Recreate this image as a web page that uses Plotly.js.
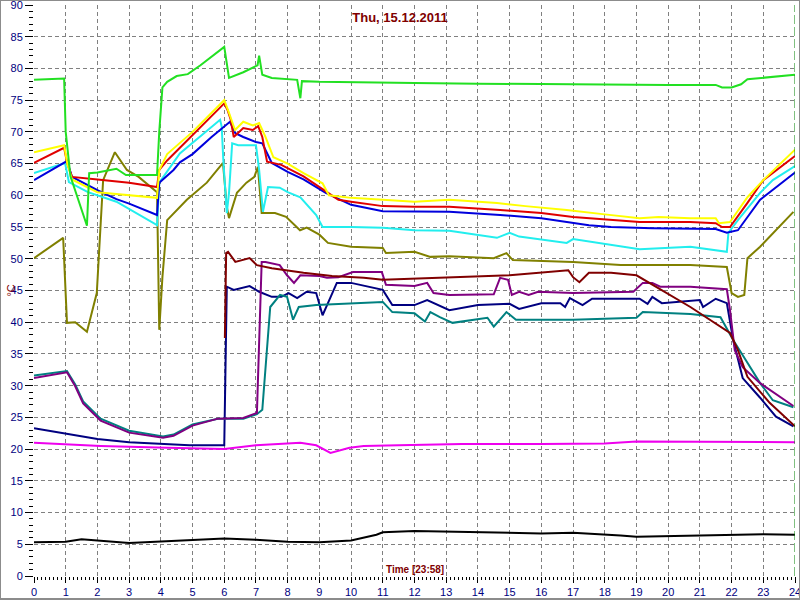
<!DOCTYPE html>
<html>
<head>
<meta charset="utf-8">
<script src="https://cdn.plot.ly/plotly-3.0.1.min.js"></script>
<style>
  html, body { margin: 0; padding: 0; background: #ffffff; }
  #wrap { position: relative; width: 800px; height: 600px; }
  #chart { width: 800px; height: 600px; }
  #frame { position: absolute; left: 0; top: 0; width: 800px; height: 600px; box-sizing: border-box; border: 1px solid #8c8c8c; border-bottom-width: 2px; pointer-events: none; }
</style>
</head>
<body>
<div id="wrap"><div id="chart"></div><div id="frame"></div></div>
<script>
// ---- Chart text ----
const chartTitle = "Thu, 15.12.2011";
const timeLabel = "Time [23:58]";
const unitLabel = "°C";

// ---- Tick labels ----
const xTickVals = [0,1,2,3,4,5,6,7,8,9,10,11,12,13,14,15,16,17,18,19,20,21,22,23,24];
const yTickVals = [0,5,10,15,20,25,30,35,40,45,50,55,60,65,70,75,80,85,90];
const xGridVals = [1,2,3,4,5,6,7,8,9,10,11,12,13,14,15,16,17,18,19,20,21,22,23];
const yGridVals = [5,10,15,20,25,30,35,40,45,50,55,60,65,70,75,80,85];

// ---- Series (hour of day, °C) ----
const limeHours = [0,0.95,1.0,1.15,1.67,1.74,2.0,2.6,2.9,3.88,3.95,4.05,4.2,4.5,4.85,5.25,6.0,6.15,6.6,7.05,7.1,7.2,7.5,8.3,8.4,8.45,9,10,12,14,16,18,20,21.5,21.7,22.0,22.3,22.5,23,24];
const limeTemps = [78.2,78.4,70,63,55.2,63.5,63.6,64.2,63.2,63.2,70,77,77.9,78.8,79.1,80.5,83.4,78.5,79.4,80.5,82,79,78.5,78.2,75.3,78,77.9,77.8,77.7,77.6,77.5,77.5,77.4,77.4,77,77.0,77.5,78.3,78.5,79];

const yellowHours = [0,0.95,1.05,1.2,2.0,3.0,3.88,3.95,4.2,5.0,6.0,6.15,6.34,6.6,6.9,7.1,7.3,7.55,8.0,8.5,9.1,9.3,10.0,11.0,12.0,13.1,14.6,15.5,16.8,18.0,19.1,19.7,20.7,21.5,21.6,21.95,22.5,23.0,24];
const yellowTemps = [66.8,67.9,65,62.5,60.5,60,59.6,64,66.5,70,75,73,70.3,71.6,71,71.4,69.2,66,65,63.5,61.9,60,59.6,59.3,59,59.3,58.8,58.3,57.7,57,56.4,56.6,56.4,56.4,55.6,55.8,59.7,62.4,67.2];

const redHours = [0,0.95,1.05,1.2,2.0,3.0,3.88,3.95,4.2,5.0,6.0,6.1,6.2,6.3,6.6,6.9,7.07,7.2,7.35,7.8,8.5,9.24,9.6,10.0,11.0,12.0,13.1,14.7,16.0,17.0,18.0,19.1,20.7,21.5,21.7,21.95,22.5,23.0,24];
const redTemps = [65.1,67.5,65,62.9,62.5,62,61.3,64,65.5,69.5,74.5,73.5,72,69.2,70.6,70.3,70.9,69.2,65.3,64.8,63,60.5,59.3,59,58.3,58.2,58.2,57.7,57.2,56.6,56.2,55.8,55.8,55.6,55,55,58.8,62.4,66.2];

const blueHours = [0,1.04,1.2,2.0,2.6,3.0,3.88,3.95,4.4,4.6,5.0,5.6,6.18,6.35,6.6,7.0,7.2,7.5,8.0,8.5,9.2,10.0,11.0,12.0,13.1,14.7,16.0,17.5,18.2,19.5,20.7,21.5,21.85,22.2,22.9,23.7,24];
const blueTemps = [62.4,65.4,62.9,60.8,59.4,58.7,56.9,62,64,65.2,66.5,69.2,71.6,69.8,69.2,68.4,68.2,65.1,63.7,62.5,60.4,58.5,57.5,57.4,57.4,56.9,56.4,55.3,55,54.8,54.7,54.7,54.1,54.5,59.3,62.4,63.6];

const cyanHours = [0,0.98,1.1,1.7,2.6,3.88,3.95,4.6,5.87,5.92,5.97,6.08,6.15,6.25,6.44,7.0,7.1,7.22,7.38,7.75,8.0,8.4,8.9,9.1,10.0,11.0,12.0,13.1,14.6,15.0,15.3,16.8,17.0,19.1,20.7,21.85,21.9,22.2,22.9,23.3,24];
const cyanTemps = [63.5,65.1,62.1,60.5,59,55.3,62,66.6,71.9,70.8,65.6,57.2,60.4,68.2,67.9,67.9,64,57.4,61.3,61.2,60.5,59.7,56.9,55,55,54.9,54.5,54.4,53.3,54.1,53.5,52.5,53.1,51.5,51.9,51.1,54.1,56.1,60.4,62.4,64.6];

const oliveHours = [0,0.92,1.04,1.3,1.67,1.98,2.18,2.55,2.93,3.3,3.88,3.95,4.05,4.2,4.82,5.45,5.96,6.08,6.15,6.4,6.7,6.95,7.06,7.18,7.6,7.95,8.39,8.6,9.0,9.27,10.0,11.0,11.1,12.0,12.5,13.1,14.5,14.9,15.1,17.0,18.5,20.7,21.85,22.0,22.2,22.4,22.5,22.9,23.95];
const oliveTemps = [50.1,53.3,39.9,40,38.5,44.6,62.4,66.8,64,62.9,60.5,38.8,47.1,56.1,59.3,62,65.1,58.2,56.4,60.4,62,62.9,64.5,57.2,57.2,56.6,54.5,54.9,53.8,52.5,51.9,51.7,50.9,51.1,50.3,50.4,50.1,50.9,49.8,49.5,49,49,48.7,44.6,44,44.3,50.1,51.9,57.4];

const maroonHours = [6.02,6.06,6.12,6.35,6.8,7.03,7.5,8.5,9.4,10.4,11.0,13.1,15.0,16.85,17.0,17.2,17.5,18.2,19.0,20.7,21.95,22.2,22.5,23.2,24];
const maroonTemps = [37.5,50.9,51.1,49.5,50.1,49,48.5,47.8,47.3,47,46.7,47.1,47.4,48.2,47.1,46.3,47.8,47.8,47.4,42.4,38.3,35.6,31.4,27.3,23.6];

const purpleHours = [0,1.04,1.3,1.55,2.1,3.0,4.07,4.4,5.0,5.8,6.6,7.03,7.18,7.3,7.75,7.98,8.2,8.4,9.0,9.24,9.6,10.06,10.97,11.1,12.0,12.4,12.6,13.1,14.5,14.7,14.95,15.07,15.3,15.6,15.9,17.0,18.9,19.2,19.5,19.75,20.7,21.85,21.95,22.1,22.35,22.9,23.95];
const purpleTemps = [31.2,32.1,29.9,27.2,24.5,22.6,21.8,22.1,23.7,24.8,24.9,25.7,49.5,49.5,49,47.4,46.2,47.4,47.3,47,47.1,47.9,47.9,45.9,45.7,46.2,44.6,44.3,44.4,47,46.7,44.3,44.8,44.3,44.8,44.6,44.8,46.2,46.2,45.6,45.6,45.2,41.9,35.6,32.9,30.4,26.8];

const tealHours = [0,1.04,1.3,1.55,2.1,3.0,4.07,4.4,5.0,5.8,6.6,7.03,7.2,7.35,7.45,7.76,7.98,8.17,8.35,8.9,10.0,11.0,11.3,12.0,12.33,12.5,12.8,13.2,14.3,14.5,14.9,15.2,17.0,19.0,19.2,20.7,21.65,22.05,22.5,22.9,23.3,23.95];
const tealTemps = [31.6,32.3,30.2,27.5,24.8,22.9,22.0,22.3,23.9,24.8,24.8,25.5,26.2,35.6,42.4,44.3,44,40.4,42.4,42.7,43,43.2,41.6,41.4,40.1,41.6,40.8,39.9,40.7,39.3,41.6,40.4,40.4,40.7,41.6,41.3,40.8,37.2,33.6,30.4,27.7,26.6];

const navyHours = [0,1.0,2.0,3.0,4.9,6.0,6.08,6.3,6.8,7.1,7.5,7.8,8.03,8.3,8.6,8.9,9.1,9.27,9.55,10.0,11.0,11.3,12.0,12.4,13.1,14.0,15.0,15.3,16.0,16.6,16.75,16.9,17.3,17.6,19.1,19.35,19.5,19.8,20.7,21.0,21.1,21.5,21.85,22.05,22.35,22.9,23.4,23.95];
const navyTemps = [23.3,22.4,21.6,21.1,20.6,20.6,45.6,45.1,45.7,44.8,44,44,44.6,43.8,44.8,44.6,41.1,43,46.2,46.2,45.1,42.7,42.7,43.5,41.9,42.7,42.9,42.1,43,43,42.4,43.8,42.7,43.7,43.7,42.9,44,43,43.4,43.5,42.4,43.7,43,37.2,31.2,28.1,25.1,23.6];

const magentaHours = [0,1,2.1,4.2,6.0,7.0,8.4,8.9,9.35,9.95,10.4,11.5,13.5,16,18,19,21,24];
const magentaTemps = [21,20.8,20.5,20.2,20,20.6,21,20.6,19.4,20.2,20.5,20.6,20.8,20.8,20.9,21.2,21.2,21.1];

const blackHours = [0,1,1.5,2,2.5,3,3.5,4,5,6,7,8,9,10,10.8,11,12,13,14,15,16,17,18,18.5,19,20,21,22,23,24];
const blackTemps = [5.3,5.4,5.8,5.6,5.4,5.2,5.3,5.4,5.6,5.9,5.7,5.4,5.3,5.6,6.5,6.9,7.1,7.0,6.9,6.8,6.7,6.8,6.6,6.4,6.2,6.3,6.4,6.6,6.6,6.5];

// ---- Build traces ----
const seriesList = [
  {h: blackHours,   v: blackTemps,   c: "#000000"},
  {h: magentaHours, v: magentaTemps, c: "#ee00ee"},
  {h: navyHours,    v: navyTemps,    c: "#000080"},
  {h: tealHours,    v: tealTemps,    c: "#008080"},
  {h: purpleHours,  v: purpleTemps,  c: "#800080"},
  {h: maroonHours,  v: maroonTemps,  c: "#800000"},
  {h: oliveHours,   v: oliveTemps,   c: "#808000"},
  {h: cyanHours,    v: cyanTemps,    c: "#22eeee"},
  {h: blueHours,    v: blueTemps,    c: "#0000dd"},
  {h: redHours,     v: redTemps,     c: "#e00000"},
  {h: yellowHours,  v: yellowTemps,  c: "#ffff00"},
  {h: limeHours,    v: limeTemps,    c: "#22e022"}
];
const traces = seriesList.map(s => ({
  type: "scatter", mode: "lines", x: s.h, y: s.v,
  line: {color: s.c, width: 2}, hoverinfo: "skip", showlegend: false
}));
// grid helper subplot (no marks)
traces.unshift({type: "scatter", mode: "lines", x: [], y: [], xaxis: "x2", yaxis: "y2", showlegend: false, hoverinfo: "skip"});

const tickFont = {family: "Liberation Sans, Arial, sans-serif", size: 11, color: "#000080"};
const gridStyle = {showgrid: true, gridcolor: "#808080", gridwidth: 1, griddash: "4px,3px"};

const layout = {
  width: 800, height: 600,
  margin: {l: 34, r: 5, t: 5, b: 24, pad: 0},
  paper_bgcolor: "#ffffff", plot_bgcolor: "#ffffff",
  showlegend: false,
  title: {text: "<b>" + chartTitle + "</b>", x: 0.5, xref: "container", xanchor: "center",
          y: 1 - 17/600, yref: "container", yanchor: "middle",
          font: {family: "Liberation Sans, Arial, sans-serif", size: 13, color: "#800000"}},
  xaxis: {range: [0, 24], tickmode: "array", tickvals: xTickVals, showgrid: false, zeroline: false, showline: false,
          ticks: "outside", ticklen: 6, tickwidth: 1, tickcolor: "#000000", tickfont: tickFont,
          ticklabeloverflow: "allow",
          minor: {dtick: 0.125, ticks: "outside", ticklen: 3, tickwidth: 1, tickcolor: "#000000", showgrid: false},
          fixedrange: true},
  yaxis: {range: [0, 90], tickmode: "array", tickvals: yTickVals, showgrid: false, zeroline: false, showline: false,
          ticks: "outside", ticklen: 8, tickwidth: 1, tickcolor: "#000000", tickfont: tickFont,
          ticklabeloverflow: "allow",
          minor: {dtick: 1, ticks: "outside", ticklen: 4, tickwidth: 1, tickcolor: "#000000", showgrid: false},
          fixedrange: true},
  xaxis2: Object.assign({overlaying: "x", anchor: "y", range: [0, 24], tickmode: "array", tickvals: xGridVals,
          showticklabels: false, ticks: "", zeroline: false, showline: false}, gridStyle),
  yaxis2: Object.assign({overlaying: "y", anchor: "x", range: [0, 90], tickmode: "array", tickvals: yGridVals,
          showticklabels: false, ticks: "", zeroline: false, showline: false}, gridStyle),
  shapes: [
    {type: "line", xref: "x", yref: "paper", x0: 24, x1: 24, y0: 0, y1: 1,
     line: {color: "#008000", width: 1, dash: "9px,3px"}}
  ],
  annotations: [
    {text: "<b>" + timeLabel + "</b>", xref: "paper", yref: "paper", x: 0.5, y: 0.012,
     xanchor: "center", yanchor: "middle", showarrow: false,
     font: {family: "Liberation Sans, Arial, sans-serif", size: 10, color: "#800000"}},
    {text: unitLabel, xref: "paper", yref: "paper", x: -0.0315, y: 0.5, textangle: -90,
     xanchor: "center", yanchor: "middle", showarrow: false,
     font: {family: "Liberation Sans, Arial, sans-serif", size: 11, color: "#800000"}}
  ]
};

Plotly.newPlot("chart", traces, layout, {displayModeBar: false, staticPlot: true});
</script>
</body>
</html>
